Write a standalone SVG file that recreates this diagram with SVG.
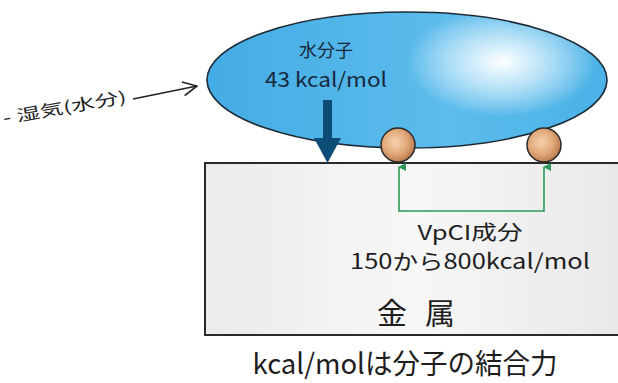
<svg xmlns="http://www.w3.org/2000/svg" width="618" height="383" viewBox="0 0 618 383">
<defs>
<linearGradient id="gWater" x1="0" y1="0" x2="1" y2="0">
<stop offset="0" stop-color="#44ace4"/>
<stop offset="0.6" stop-color="#5cbcec"/>
<stop offset="1" stop-color="#4ab2e7"/>
</linearGradient>
<radialGradient id="gShine" cx="0.5" cy="0.5" r="0.5">
<stop offset="0" stop-color="#ffffff" stop-opacity="1"/>
<stop offset="0.3" stop-color="#e6f6fd" stop-opacity="0.85"/>
<stop offset="1" stop-color="#ffffff" stop-opacity="0"/>
</radialGradient>
<linearGradient id="gMetal" x1="0" y1="0" x2="1" y2="0">
<stop offset="0" stop-color="#ebebeb"/>
<stop offset="0.5" stop-color="#f7f7f7"/>
<stop offset="1" stop-color="#e8e8e8"/>
</linearGradient>
<radialGradient id="gBall" cx="0.42" cy="0.42" r="0.6">
<stop offset="0" stop-color="#f6d2b0"/>
<stop offset="0.6" stop-color="#e0a878"/>
<stop offset="1" stop-color="#b8784a"/>
</radialGradient>
<marker id="mGreen" viewBox="0 0 8 8" refX="4" refY="1" markerWidth="8" markerHeight="8" markerUnits="userSpaceOnUse" orient="auto-start-reverse">
<path d="M0,8 L4,0 L8,8 Z" fill="#2e9a5a"/>
</marker>
<marker id="mOpen" viewBox="0 0 16 16" refX="15" refY="8" markerWidth="16" markerHeight="16" markerUnits="userSpaceOnUse" orient="auto">
<path d="M1,1 L15,8 L1,15" fill="none" stroke="#222" stroke-width="1.6"/>
</marker>
</defs>
<style>
.t{font-family:"Noto Sans CJK JP","Liberation Sans",sans-serif;fill:#1e1e1e}
.n{fill:#17283c}
</style>
<g id="metal">
<rect x="205" y="163" width="420" height="172" fill="url(#gMetal)" stroke="#2a2a2a" stroke-width="2"/>
<text class="t" x="392" y="324" font-size="30" text-anchor="middle">金</text>
<text class="t" x="440" y="324" font-size="30" text-anchor="middle">属</text>
</g>
<g id="water">
<ellipse cx="407" cy="80" rx="200" ry="68" fill="url(#gWater)"/>
<ellipse cx="502" cy="62" rx="95" ry="55" fill="url(#gShine)"/>
<ellipse cx="407" cy="80" rx="200" ry="68" fill="none" stroke="#1c2a36" stroke-width="1.6"/>
<text class="t n" x="326" y="57" font-size="18" text-anchor="middle">水分子</text>
<text class="t n" x="326" y="87" font-size="20" text-anchor="middle" textLength="122" lengthAdjust="spacingAndGlyphs">43 kcal/mol</text>
</g>
<g id="ball1"><circle cx="398" cy="145" r="17" fill="url(#gBall)" stroke="#2a2a2a" stroke-width="1.5"/></g>
<g id="ball2"><circle cx="544" cy="145" r="17" fill="url(#gBall)" stroke="#2a2a2a" stroke-width="1.5"/></g>
<g id="vpci">
<text class="t" x="470" y="240" font-size="20" text-anchor="middle" textLength="105" lengthAdjust="spacingAndGlyphs">VpCI成分</text>
<text class="t" x="470" y="269" font-size="21" text-anchor="middle" textLength="240" lengthAdjust="spacingAndGlyphs">150から800kcal/mol</text>
</g>
<g id="humidity">
<text class="t" x="0" y="0" font-size="16" transform="translate(4 124) rotate(-10)" textLength="125" lengthAdjust="spacingAndGlyphs">- 湿気(水分)</text>
</g>
<g id="caption">
<text class="t" x="405" y="374" font-size="28" text-anchor="middle" textLength="305" lengthAdjust="spacingAndGlyphs">kcal/molは分子の結合力</text>
</g>
<g id="connectors">
<line x1="133" y1="99" x2="197" y2="86" stroke="#222" stroke-width="1.6" marker-end="url(#mOpen)"/>
<rect x="323" y="100" width="9" height="40" fill="#0e4c78"/>
<polygon points="314,138 341,138 327.5,163" fill="#0e4c78"/>
<path d="M399,167 V211 H544 V167" fill="none" stroke="#2e9a5a" stroke-width="1.6" marker-start="url(#mGreen)" marker-end="url(#mGreen)"/>
</g>
</svg>
